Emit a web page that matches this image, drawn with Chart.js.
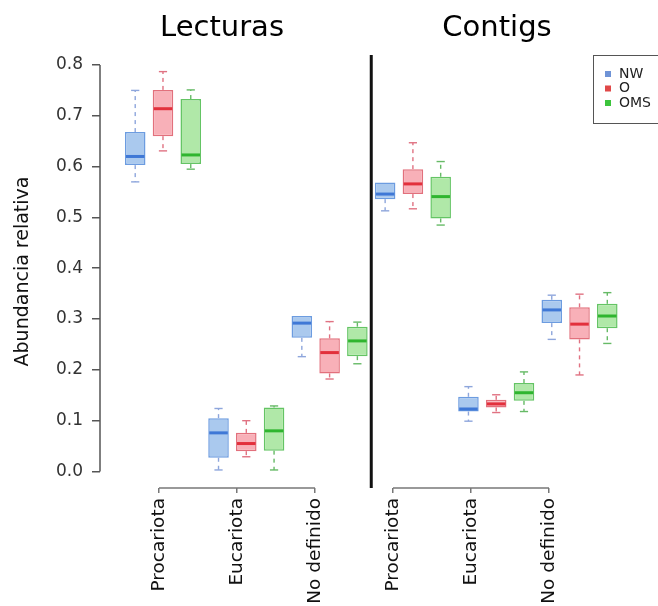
<!DOCTYPE html>
<html>
<head>
<meta charset="utf-8">
<script src="https://cdn.jsdelivr.net/npm/chart.js@4.4.1/dist/chart.umd.min.js"></script>
<style>
    html, body { margin: 0; padding: 0; background: #fff; overflow: hidden; }
</style>
</head>
<body>
<canvas id="boxChart" width="658" height="606"></canvas>
<script>
const panels = ['Lecturas', 'Contigs'];
const categories = ['Procariota', 'Eucariota', 'No definido'];
const groups = ['NW', 'O', 'OMS'];
// one slot per panel x category: Lecturas first, then Contigs
const slotLabels = [...categories, ...categories];
const slotPositions = [1, 2, 3, 4, 5, 6];
const yTicks = [0.0, 0.1, 0.2, 0.3, 0.4, 0.5, 0.6, 0.7, 0.8];

// [min, q1, median, q3, max] per slot
const nwStats = [
    [0.570, 0.603, 0.620, 0.668, 0.750],
    [0.003, 0.027, 0.076, 0.105, 0.124],
    [0.226, 0.263, 0.292, 0.306, 0.306],
    [0.513, 0.536, 0.546, 0.569, 0.569],
    [0.099, 0.118, 0.123, 0.147, 0.167],
    [0.260, 0.292, 0.318, 0.338, 0.347]
];
const oStats = [
    [0.631, 0.660, 0.714, 0.751, 0.787],
    [0.029, 0.040, 0.055, 0.076, 0.100],
    [0.182, 0.193, 0.234, 0.262, 0.295],
    [0.517, 0.546, 0.566, 0.595, 0.647],
    [0.116, 0.126, 0.133, 0.141, 0.151],
    [0.190, 0.260, 0.290, 0.323, 0.349]
];
const omsStats = [
    [0.595, 0.605, 0.623, 0.733, 0.751],
    [0.003, 0.041, 0.080, 0.126, 0.129],
    [0.212, 0.227, 0.257, 0.285, 0.294],
    [0.485, 0.498, 0.541, 0.580, 0.610],
    [0.118, 0.139, 0.155, 0.174, 0.196],
    [0.252, 0.282, 0.306, 0.330, 0.352]
];

const statsByGroup = [nwStats, oStats, omsStats];
const colors = [
    { fill: '#aac9ee', line: '#6c9ce0', median: '#3f78d6', whisker: '#8ea6dc', key: '#6f93d6' },
    { fill: '#f8b0b8', line: '#e2707c', median: '#e2303c', whisker: '#e07282', key: '#e04848' },
    { fill: '#b0e8a8', line: '#64c464', median: '#2fb52f', whisker: '#66ba66', key: '#3cc43c' }
];

// whiskers, medians, R-style axis lines, panel divider
const boxPlugin = {
    id: 'boxParts',
    beforeDatasetsDraw(chart) {
        const ctx = chart.ctx;
        const y = chart.scales.y;
        chart.data.datasets.forEach((ds, di) => {
            chart.getDatasetMeta(di).data.forEach((bar, i) => {
                const { x, width } = bar.getProps(['x', 'width'], true);
                const [lo, q1, , q3, hi] = ds.stats[i];
                const cap = width * 0.2;
                ctx.save();
                ctx.strokeStyle = colors[di].whisker;
                ctx.lineWidth = 1.4;
                [[q3, hi], [q1, lo]].forEach(([from, to]) => {
                    if (from === to) return;
                    ctx.setLineDash([4, 4]);
                    ctx.beginPath();
                    ctx.moveTo(x, y.getPixelForValue(from));
                    ctx.lineTo(x, y.getPixelForValue(to));
                    ctx.stroke();
                    ctx.setLineDash([]);
                    ctx.beginPath();
                    ctx.moveTo(x - cap, y.getPixelForValue(to));
                    ctx.lineTo(x + cap, y.getPixelForValue(to));
                    ctx.stroke();
                });
                ctx.restore();
            });
        });
    },
    afterDatasetsDraw(chart) {
        const ctx = chart.ctx;
        const { y, x, xl } = chart.scales;
        const area = chart.chartArea;
        chart.data.datasets.forEach((ds, di) => {
            chart.getDatasetMeta(di).data.forEach((bar, i) => {
                const { x: bx, width } = bar.getProps(['x', 'width'], true);
                const my = y.getPixelForValue(ds.stats[i][2]);
                ctx.save();
                ctx.strokeStyle = colors[di].median;
                ctx.lineWidth = 3;
                ctx.beginPath();
                ctx.moveTo(bx - width / 2 + 1, my);
                ctx.lineTo(bx + width / 2 - 1, my);
                ctx.stroke();
                ctx.restore();
            });
        });

        ctx.save();
        // y axis spine only over the tick range
        ctx.strokeStyle = '#555';
        ctx.lineWidth = 1.5;
        ctx.beginPath();
        ctx.moveTo(area.left, y.getPixelForValue(yTicks[0]));
        ctx.lineTo(area.left, y.getPixelForValue(yTicks[yTicks.length - 1]));
        ctx.stroke();

        // one bracket axis per panel
        ctx.strokeStyle = '#777';
        panels.forEach((p, pi) => {
            const first = slotPositions[pi * categories.length];
            const last = slotPositions[pi * categories.length + categories.length - 1];
            ctx.beginPath();
            ctx.moveTo(xl.getPixelForValue(first), area.bottom);
            ctx.lineTo(xl.getPixelForValue(last), area.bottom);
            ctx.stroke();
        });

        // divider between panels
        const split = (slotPositions[categories.length - 1] + slotPositions[categories.length]) / 2;
        ctx.strokeStyle = '#111';
        ctx.lineWidth = 3;
        ctx.beginPath();
        ctx.moveTo(x.getPixelForValue(split), area.top);
        ctx.lineTo(x.getPixelForValue(split), area.bottom);
        ctx.stroke();
        ctx.restore();
    },
    afterDraw(chart) {
        const ctx = chart.ctx;
        ctx.save();
        // panel titles
        ctx.fillStyle = '#000';
        ctx.font = '29px "DejaVu Sans"';
        ctx.textAlign = 'center';
        ctx.textBaseline = 'alphabetic';
        const titleX = [222, 497];
        panels.forEach((p, i) => ctx.fillText(p, titleX[i], 36));

        // legend box
        ctx.strokeStyle = '#555';
        ctx.lineWidth = 1;
        ctx.strokeRect(593.5, 55.5, 80, 68);
        ctx.font = '14px "DejaVu Sans"';
        ctx.textAlign = 'left';
        ctx.textBaseline = 'middle';
        chart.data.datasets.forEach((ds, i) => {
            const ly = 74 + i * 14.5;
            ctx.fillStyle = colors[i].key;
            ctx.fillRect(605, ly - 3, 6, 6);
            ctx.fillStyle = '#222';
            ctx.fillText(ds.label, 619, ly);
        });
        ctx.restore();
    }
};

const ctx = document.getElementById('boxChart').getContext('2d');
const boxChart = new Chart(ctx, {
    type: 'bar',
    data: {
        datasets: groups.map((g, gi) => ({
            label: g,
            xAxisID: 'x',
            yAxisID: 'y',
            stats: statsByGroup[gi],
            data: slotPositions.map((p, i) => ({ x: p, y: [statsByGroup[gi][i][1], statsByGroup[gi][i][3]] })),
            backgroundColor: colors[gi].fill,
            borderColor: colors[gi].line,
            borderWidth: 1.5,
            borderSkipped: false,
            categoryPercentage: 1.0,
            barPercentage: 0.74
        }))
    },
    options: {
        responsive: false,
        animation: false,
        layout: { padding: { top: 55, right: 8, left: 0, bottom: 0 } },
        plugins: {
            legend: { display: false },
            tooltip: { enabled: false }
        },
        scales: {
            x: {
                type: 'linear',
                display: false,
                offset: false,
                min: 0.244,
                max: 6.846,
                // bar width follows the slot spacing, so keep ticks on the slots
                afterBuildTicks: s => { s.ticks = slotPositions.map(v => ({ value: v })); }
            },
            xl: {
                type: 'linear',
                axis: 'x',
                position: 'bottom',
                offset: false,
                min: 0.244,
                max: 7.295,
                afterBuildTicks: s => { s.ticks = slotPositions.map(v => ({ value: v })); },
                afterFit: s => { s.height = 118; },
                ticks: {
                    autoSkip: false,
                    minRotation: 90,
                    maxRotation: 90,
                    padding: 5,
                    color: '#111',
                    font: { family: 'DejaVu Sans', size: 18.5 },
                    callback: (v, i) => slotLabels[i]
                },
                grid: { display: true, offset: false, drawOnChartArea: false, drawTicks: true, tickLength: 5, color: '#777', lineWidth: 1.5 },
                border: { display: false }
            },
            y: {
                type: 'linear',
                min: -0.0325,
                max: 0.8197,
                afterBuildTicks: s => { s.ticks = yTicks.map(v => ({ value: v })); },
                afterFit: s => { s.width = 100; },
                ticks: {
                    padding: 9,
                    color: '#333',
                    font: { family: 'DejaVu Sans', size: 17 },
                    callback: v => v.toFixed(1)
                },
                grid: { drawOnChartArea: false, drawTicks: true, tickLength: 8, color: '#555', lineWidth: 1.5 },
                border: { display: false },
                title: {
                    display: true,
                    text: 'Abundancia relativa',
                    color: '#111',
                    font: { family: 'DejaVu Sans', size: 19 },
                    padding: { top: 12, bottom: 0 }
                }
            }
        }
    },
    plugins: [boxPlugin]
});
</script>
</body>
</html>
